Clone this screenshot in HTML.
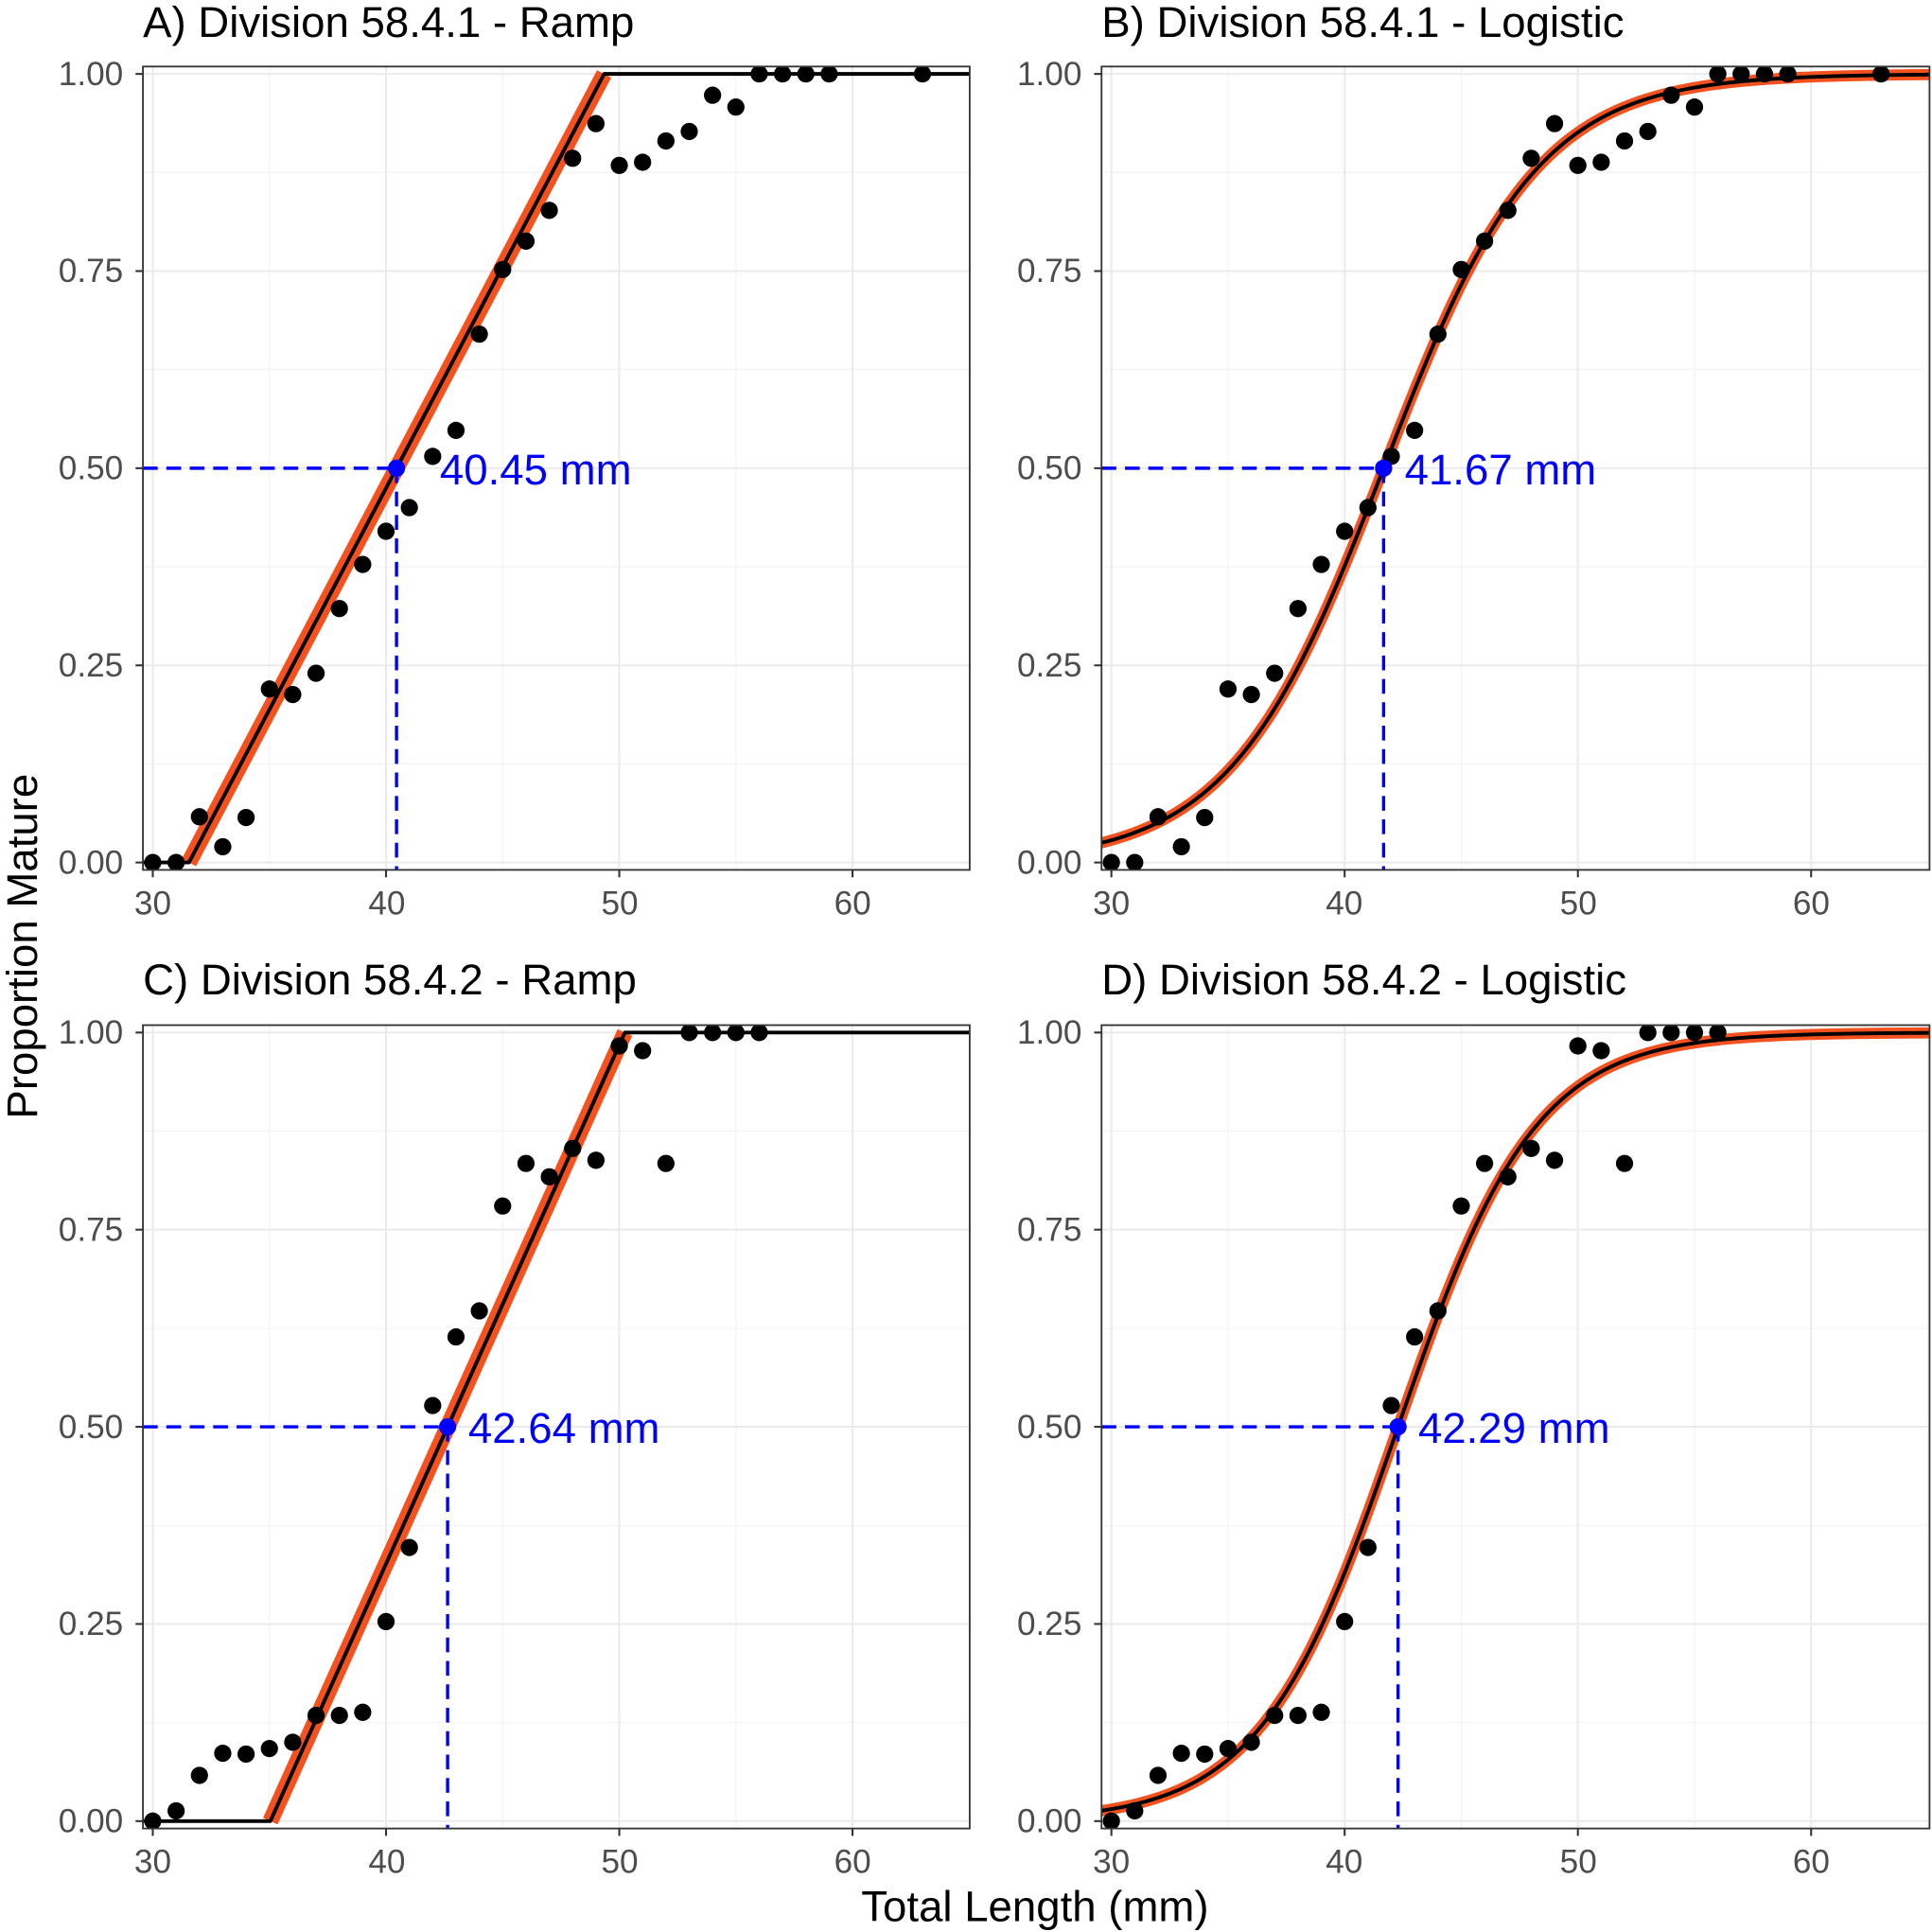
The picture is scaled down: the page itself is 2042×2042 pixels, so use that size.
<!DOCTYPE html>
<html><head><meta charset="utf-8"><style>
html,body{margin:0;padding:0;background:#fff}
svg{display:block}
text{font-family:"Liberation Sans",sans-serif}
.tl{font-size:27px;fill:#4D4D4D}
.tt{font-size:35px;fill:#000}
.lab{font-size:35px;fill:#0000FF}
</style></head><body>
<svg id="s" width="2042" height="2042" viewBox="0 0 1568 1568" xmlns="http://www.w3.org/2000/svg">
<defs>
<clipPath id="cA"><rect x="116" y="54" width="671" height="652"/></clipPath>
<clipPath id="cB"><rect x="894" y="54" width="672" height="652"/></clipPath>
<clipPath id="cC"><rect x="116" y="832" width="671" height="652"/></clipPath>
<clipPath id="cD"><rect x="894" y="832" width="672" height="652"/></clipPath>
</defs>
<g id="g"></g>
<text class="tt" x="116" y="30">A) Division 58.4.1 - Ramp</text>
<text class="tt" x="894" y="30">B) Division 58.4.1 - Logistic</text>
<text class="tt" x="116" y="807">C) Division 58.4.2 - Ramp</text>
<text class="tt" x="894" y="807">D) Division 58.4.2 - Logistic</text>
<text class="tt" x="840" y="1559" text-anchor="middle">Total Length (mm)</text>
<text class="tt" transform="translate(30,768) rotate(-90)" text-anchor="middle">Proportion Mature</text>
<g class="tl" text-anchor="end">
<text x="100" y="69">1.00</text><text x="100" y="229">0.75</text><text x="100" y="389">0.50</text><text x="100" y="549">0.25</text><text x="100" y="709">0.00</text>
<text x="878" y="69">1.00</text><text x="878" y="229">0.75</text><text x="878" y="389">0.50</text><text x="878" y="549">0.25</text><text x="878" y="709">0.00</text>
<text x="100" y="847">1.00</text><text x="100" y="1007">0.75</text><text x="100" y="1167">0.50</text><text x="100" y="1327">0.25</text><text x="100" y="1487">0.00</text>
<text x="878" y="847">1.00</text><text x="878" y="1007">0.75</text><text x="878" y="1167">0.50</text><text x="878" y="1327">0.25</text><text x="878" y="1487">0.00</text>
</g>
<g class="tl" text-anchor="middle">
<text x="124" y="742">30</text><text x="314" y="742">40</text><text x="503" y="742">50</text><text x="692" y="742">60</text>
<text x="902" y="742">30</text><text x="1091" y="742">40</text><text x="1281" y="742">50</text><text x="1470" y="742">60</text>
<text x="124" y="1520">30</text><text x="314" y="1520">40</text><text x="503" y="1520">50</text><text x="692" y="1520">60</text>
<text x="902" y="1520">30</text><text x="1091" y="1520">40</text><text x="1281" y="1520">50</text><text x="1470" y="1520">60</text>
</g>
<text class="lab" x="357" y="393">40.45 mm</text>
<text class="lab" x="1140" y="393">41.67 mm</text>
<text class="lab" x="380" y="1171">42.64 mm</text>
<text class="lab" x="1151" y="1171">42.29 mm</text>
</svg>
<script>
var NS="http://www.w3.org/2000/svg",G=document.getElementById("g");
function el(t,a){var e=document.createElementNS(NS,t);for(var k in a)e.setAttribute(k,a[k]);return e;}
var d1=[[30,0],[31,0],[32,.058],[33,.02],[34,.057],[35,.22],[36,.213],[37,.24],[38,.322],[39,.378],[40,.42],[41,.45],[42,.515],[43,.548],[44,.67],[45,.752],[46,.788],[47,.827],[48,.893],[49,.937],[50,.884],[51,.888],[52,.915],[53,.927],[54,.973],[55,.958],[56,1],[57,1],[58,1],[59,1],[63,1]];
var d2=[[30,0],[31,.013],[32,.058],[33,.086],[34,.085],[35,.092],[36,.1],[37,.134],[38,.134],[39,.138],[40,.253],[41,.347],[42,.527],[43,.614],[44,.647],[45,.78],[46,.834],[47,.817],[48,.853],[49,.838],[50,.983],[51,.977],[52,.834],[53,1],[54,1],[55,1],[56,1]];
var P=[
{L:116,R:787,T:54,B:706,x0:124,y0:700,c:"cA",d:d1,type:"r",m:40.45,h:8.9},
{L:894,R:1566,T:54,B:706,x0:902,y0:700,c:"cB",d:d1,type:"l",m:41.67,s:3.3},
{L:116,R:787,T:832,B:1484,x0:124,y0:1478,c:"cC",d:d2,type:"r",m:42.64,h:7.6},
{L:894,R:1566,T:832,B:1484,x0:902,y0:1478,c:"cD",d:d2,type:"l",m:42.29,s:2.95}];
P.forEach(function(p){
 var X=function(v){return p.x0+(v-30)*18.93},Y=function(v){return p.y0-640*v};
 var g=el("g",{"clip-path":"url(#"+p.c+")"});G.appendChild(g);
 [35,45,55,65].forEach(function(v){g.appendChild(el("line",{x1:X(v),x2:X(v),y1:p.T,y2:p.B,stroke:"#F2F2F2","stroke-width":0.8}))});
 [.125,.375,.625,.875].forEach(function(v){g.appendChild(el("line",{x1:p.L,x2:p.R,y1:Y(v),y2:Y(v),stroke:"#F2F2F2","stroke-width":0.8}))});
 [30,40,50,60].forEach(function(v){g.appendChild(el("line",{x1:X(v),x2:X(v),y1:p.T,y2:p.B,stroke:"#EBEBEB","stroke-width":1.6}))});
 [0,.25,.5,.75,1].forEach(function(v){g.appendChild(el("line",{x1:p.L,x2:p.R,y1:Y(v),y2:Y(v),stroke:"#EBEBEB","stroke-width":1.6}))});
 var pts=[],band;
 if(p.type=="r"){pts=[[28,0],[p.m-p.h,0],[p.m+p.h,1],[66,1]];
   band="M"+X(p.m-p.h)+" "+Y(0)+"L"+X(p.m+p.h)+" "+Y(1);
   g.appendChild(el("path",{d:band,fill:"none",stroke:"#F4511E","stroke-width":13,"stroke-linecap":"butt"}));}
 else{for(var v=28;v<=66;v+=0.1)pts.push([v,1/(1+Math.exp(-(v-p.m)/p.s))]);}
 var dstr=pts.map(function(q,i){return (i?"L":"M")+X(q[0]).toFixed(2)+" "+Y(q[1]).toFixed(2)}).join("");
 if(p.type=="l")g.appendChild(el("path",{d:dstr,fill:"none",stroke:"#F4511E","stroke-width":9,"stroke-linejoin":"round"}));
 g.appendChild(el("path",{d:dstr,fill:"none",stroke:"#000","stroke-width":3,"stroke-linejoin":"round"}));
 g.appendChild(el("line",{x1:p.L,x2:X(p.m),y1:Y(.5),y2:Y(.5),stroke:"#0000FF","stroke-width":2.6,"stroke-dasharray":"12 7"}));
 g.appendChild(el("line",{x1:X(p.m),x2:X(p.m),y1:Y(.5),y2:p.B,stroke:"#0000FF","stroke-width":2.6,"stroke-dasharray":"12 7"}));
 p.d.forEach(function(q){g.appendChild(el("circle",{cx:X(q[0]),cy:Y(q[1]),r:7,fill:"#000"}))});
 g.appendChild(el("circle",{cx:X(p.m),cy:Y(.5),r:7,fill:"#0000FF"}));
 G.appendChild(el("rect",{x:p.L,y:p.T,width:p.R-p.L,height:p.B-p.T,fill:"none",stroke:"#333","stroke-width":1.4}));
 [0,.25,.5,.75,1].forEach(function(v){G.appendChild(el("line",{x1:p.L-6,x2:p.L,y1:Y(v),y2:Y(v),stroke:"#333","stroke-width":1.6}))});
 [30,40,50,60].forEach(function(v){G.appendChild(el("line",{x1:X(v),x2:X(v),y1:p.B,y2:p.B+6,stroke:"#333","stroke-width":1.6}))});
});
</script>
</body></html>
